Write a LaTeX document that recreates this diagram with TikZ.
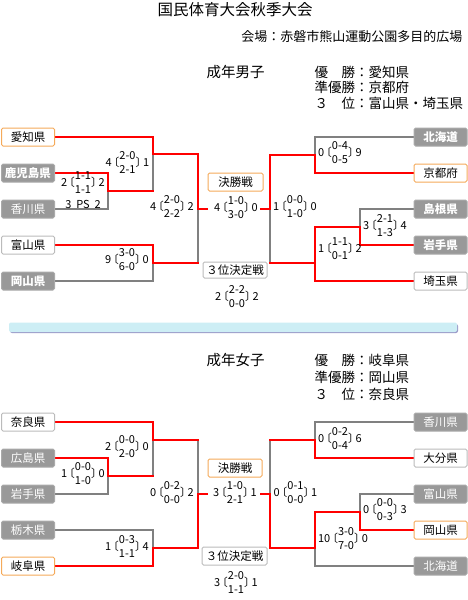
\documentclass[tikz,border=0pt]{standalone}
\usepackage{fontspec}
\setmainfont{Noto Sans CJK JP}
\usepackage{tikz}
\usetikzlibrary{backgrounds}
\definecolor{winred}{HTML}{FF0000}
\definecolor{losegray}{HTML}{808080}
\definecolor{champorange}{HTML}{F5AA5A}
\definecolor{rimgray}{HTML}{BBBBBB}
\definecolor{outgray}{HTML}{999999}
\definecolor{outrim}{HTML}{AAAAAA}
\definecolor{barcyan}{HTML}{CDEEF5}
\definecolor{barshade}{HTML}{9A9AC8}

\newcommand{\titlefont}{\fontsize{15.5}{16}\selectfont}
\newcommand{\headfont}{\fontsize{13}{14}\selectfont}
\newcommand{\resfont}{\fontsize{13.5}{14}\selectfont}
\newcommand{\classfont}{\fontsize{14.5}{15}\selectfont}
\newcommand{\teamfont}{\fontsize{11.5}{12}\selectfont}
\newcommand{\scorefont}{\fontsize{11}{14}\selectfont}
% score: left, first half, second half, right
\newcommand{\matchscore}[4]{#1\kern-0.3em〔\begin{tabular}{@{}c@{}}#2\\#3\end{tabular}〕\kern-0.3em#4}

\tikzset{
  teambox/.style={draw, line width=1pt, rounded corners=1.5pt, minimum width=53pt,
    minimum height=18pt, inner sep=0pt, font=\teamfont},
  champbox/.style={teambox, draw=champorange, fill=white},
  whitebox/.style={teambox, draw=rimgray, fill=white},
  graybox/.style={teambox, draw=outrim, fill=outgray, text=white},
  boldbox/.style={graybox, font=\teamfont\bfseries},
  winline/.style={draw=winred, line width=2pt, line cap=rect},
  loseline/.style={draw=losegray, line width=2pt, line cap=rect},
  scorelbl/.style={inner sep=0pt, font=\scorefont}
}

\begin{document}
\begin{tikzpicture}[x=1pt, y=-1pt]
  \useasboundingbox (0,0) rectangle (468,600);

  % heading
  \node (title) at (235,10) {\titlefont 国民体育大会秋季大会};
  \node[anchor=east, font=\headfont] (venue) at (466,37) {会場：赤磐市熊山運動公園多目的広場};

  % ---------- men ----------
  \node[anchor=west, font=\classfont] (menhead) at (203,72) {成年男子};
  \node[anchor=west, font=\resfont] (menres1) at (311,72) {優　勝：愛知県};
  \node[anchor=west, font=\resfont] (menres2) at (311,87.5) {準優勝：京都府};
  \node[anchor=west, font=\resfont] (menres3) at (311,103) {３　位：富山県・埼玉県};

  \node[champbox] (aichi) at (28,137) {愛知県};
  \node[boldbox] (kagoshima) at (28,173) {鹿児島県};
  \node[graybox] (kagawaM) at (28,209) {香川県};
  \node[whitebox] (toyamaM) at (28,245) {富山県};
  \node[boldbox] (okayamaM) at (28,281) {岡山県};

  \node[boldbox] (hokkaidoM) at (440.5,137) {北海道};
  \node[champbox] (kyoto) at (440.5,173) {京都府};
  \node[boldbox] (shimane) at (440.5,209) {島根県};
  \node[boldbox] (iwateM) at (440.5,245) {岩手県};
  \node[whitebox] (saitama) at (440.5,281) {埼玉県};

  \node[champbox, minimum width=55pt] (finalM) at (235.5,182) {決勝戦};
  \node[whitebox, minimum width=64pt, minimum height=16pt] (thirdM) at (235,270) {３位決定戦};

  \coordinate (mA) at (108,191);
  \coordinate (mB) at (153,154);
  \coordinate (mC) at (153,263);
  \coordinate (mD) at (198,209);
  \coordinate (mLstub) at (207,209);
  \coordinate (mE) at (315,155);
  \coordinate (mF) at (360,227);
  \coordinate (mG) at (315,263);
  \coordinate (mH) at (270,209);
  \coordinate (mRstub) at (261,209);

  \node[scorelbl] (scM1) at (83,184) {\matchscore{2}{1-1}{1-1}{2}};
  \node[scorelbl] (psM1) at (83,204) {3~~PS~~2};
  \node[scorelbl] (scM2) at (127.5,164) {\matchscore{4}{2-0}{2-1}{1}};
  \node[scorelbl] (scM3) at (127,261) {\matchscore{9}{3-0}{6-0}{0}};
  \node[scorelbl] (scM4) at (172,208) {\matchscore{4}{2-0}{2-2}{2}};
  \node[scorelbl] (scM5) at (236,209) {\matchscore{4}{1-0}{3-0}{0}};
  \node[scorelbl] (scM6) at (237,298) {\matchscore{2}{2-2}{0-0}{2}};
  \node[scorelbl] (scM7) at (340,154) {\matchscore{0}{0-4}{0-5}{9}};
  \node[scorelbl] (scM8) at (295,208) {\matchscore{1}{0-0}{1-0}{0}};
  \node[scorelbl] (scM9) at (385,227) {\matchscore{3}{2-1}{1-3}{4}};
  \node[scorelbl] (scM10) at (340,250) {\matchscore{1}{1-1}{0-1}{2}};

  \begin{scope}[on background layer]
    % men, out
    \draw[loseline] (kagawaM.east) -| (mA);
    \draw[loseline] (mA -| mB) -- (mB);
    \draw[loseline] (okayamaM.east) -| (mC);
    \draw[loseline] (mC -| mD) -- (mD);
    \draw[loseline] (hokkaidoM.west) -| (mE);
    \draw[loseline] (shimane.west) -| (mF);
    \draw[loseline] (mG -| mH) -- (mH);
    % men, through
    \draw[winline] (kagoshima.east) -| (mA);
    \draw[winline] (mA) -- (mA -| mB);
    \draw[winline] (aichi.east) -| (mB);
    \draw[winline] (toyamaM.east) -| (mC);
    \draw[winline] (mC) -- (mC -| mD);
    \draw[winline] (mB) -| (mD);
    \draw[winline] (mD) -- (mLstub);
    \draw[winline] (kyoto.west) -| (mE);
    \draw[winline] (mE) -| (mH);
    \draw[winline] (iwateM.west) -| (mF);
    \draw[winline] (mF) -| (mG);
    \draw[winline] (saitama.west) -| (mG);
    \draw[winline] (mG) -- (mG -| mH);
    \draw[winline] (mH) -- (mRstub);
  \end{scope}

  % divider
  \fill[barshade, rounded corners=2pt] (10,324) rectangle (458,333);
  \fill[barcyan, rounded corners=2pt] (9,322.5) rectangle (457,332);

  % ---------- women ----------
  \node[anchor=west, font=\classfont] (womenhead) at (203,360) {成年女子};
  \node[anchor=west, font=\resfont] (womenres1) at (311,360) {優　勝：岐阜県};
  \node[anchor=west, font=\resfont] (womenres2) at (311,377) {準優勝：岡山県};
  \node[anchor=west, font=\resfont] (womenres3) at (311,394) {３　位：奈良県};

  \node[whitebox] (nara) at (28,422) {奈良県};
  \node[graybox] (hiroshima) at (28,458) {広島県};
  \node[graybox] (iwateW) at (28,494) {岩手県};
  \node[graybox] (tochigi) at (28,530) {栃木県};
  \node[champbox] (gifu) at (28,566) {岐阜県};

  \node[graybox] (kagawaW) at (440.5,422) {香川県};
  \node[whitebox] (oita) at (440.5,458) {大分県};
  \node[graybox] (toyamaW) at (440.5,494) {富山県};
  \node[champbox] (okayamaW) at (440.5,530) {岡山県};
  \node[graybox] (hokkaidoW) at (440.5,566) {北海道};

  \node[champbox, minimum width=54pt] (finalW) at (235,468) {決勝戦};
  \node[whitebox, minimum width=65pt] (thirdW) at (234.5,556) {３位決定戦};

  \coordinate (wA) at (108,476);
  \coordinate (wB) at (153,440);
  \coordinate (wC) at (153,548);
  \coordinate (wD) at (198,494);
  \coordinate (wLstub) at (207,494);
  \coordinate (wE) at (315,440);
  \coordinate (wF) at (360,512);
  \coordinate (wG) at (315,548);
  \coordinate (wH) at (270,494);
  \coordinate (wRstub) at (261,494);

  \node[scorelbl] (scW1) at (127,448) {\matchscore{2}{0-0}{2-0}{0}};
  \node[scorelbl] (scW2) at (83,475) {\matchscore{1}{0-0}{1-0}{0}};
  \node[scorelbl] (scW3) at (127,548) {\matchscore{1}{0-3}{1-1}{4}};
  \node[scorelbl] (scW4) at (172,494) {\matchscore{0}{0-2}{0-0}{2}};
  \node[scorelbl] (scW5) at (235,494) {\matchscore{3}{1-0}{2-1}{1}};
  \node[scorelbl] (scW6) at (236,584) {\matchscore{3}{2-0}{1-1}{1}};
  \node[scorelbl] (scW7) at (340,440) {\matchscore{0}{0-2}{0-4}{6}};
  \node[scorelbl] (scW8) at (295.5,494) {\matchscore{0}{0-1}{0-0}{1}};
  \node[scorelbl] (scW9) at (385,511) {\matchscore{0}{0-0}{0-3}{3}};
  \node[scorelbl] (scW10) at (343,540) {\matchscore{10}{3-0}{7-0}{0}};

  \begin{scope}[on background layer]
    % women, out
    \draw[loseline] (iwateW.east) -| (wA);
    \draw[loseline] (wA -| wB) -- (wB);
    \draw[loseline] (tochigi.east) -| (wC);
    \draw[loseline] (wB -| wD) -- (wD);
    \draw[loseline] (kagawaW.west) -| (wE);
    \draw[loseline] (toyamaW.west) -| (wF);
    \draw[loseline] (hokkaidoW.west) -| (wG);
    \draw[loseline] (wE -| wH) -- (wH);
    % women, through
    \draw[winline] (hiroshima.east) -| (wA);
    \draw[winline] (wA) -- (wA -| wB);
    \draw[winline] (nara.east) -| (wB);
    \draw[winline] (wB) -- (wB -| wD);
    \draw[winline] (gifu.east) -| (wC);
    \draw[winline] (wC) -| (wD);
    \draw[winline] (wD) -- (wLstub);
    \draw[winline] (oita.west) -| (wE);
    \draw[winline] (wE) -- (wE -| wH);
    \draw[winline] (okayamaW.west) -| (wF);
    \draw[winline] (wF) -| (wG);
    \draw[winline] (wG) -| (wH);
    \draw[winline] (wH) -- (wRstub);
  \end{scope}
\end{tikzpicture}
\end{document}
